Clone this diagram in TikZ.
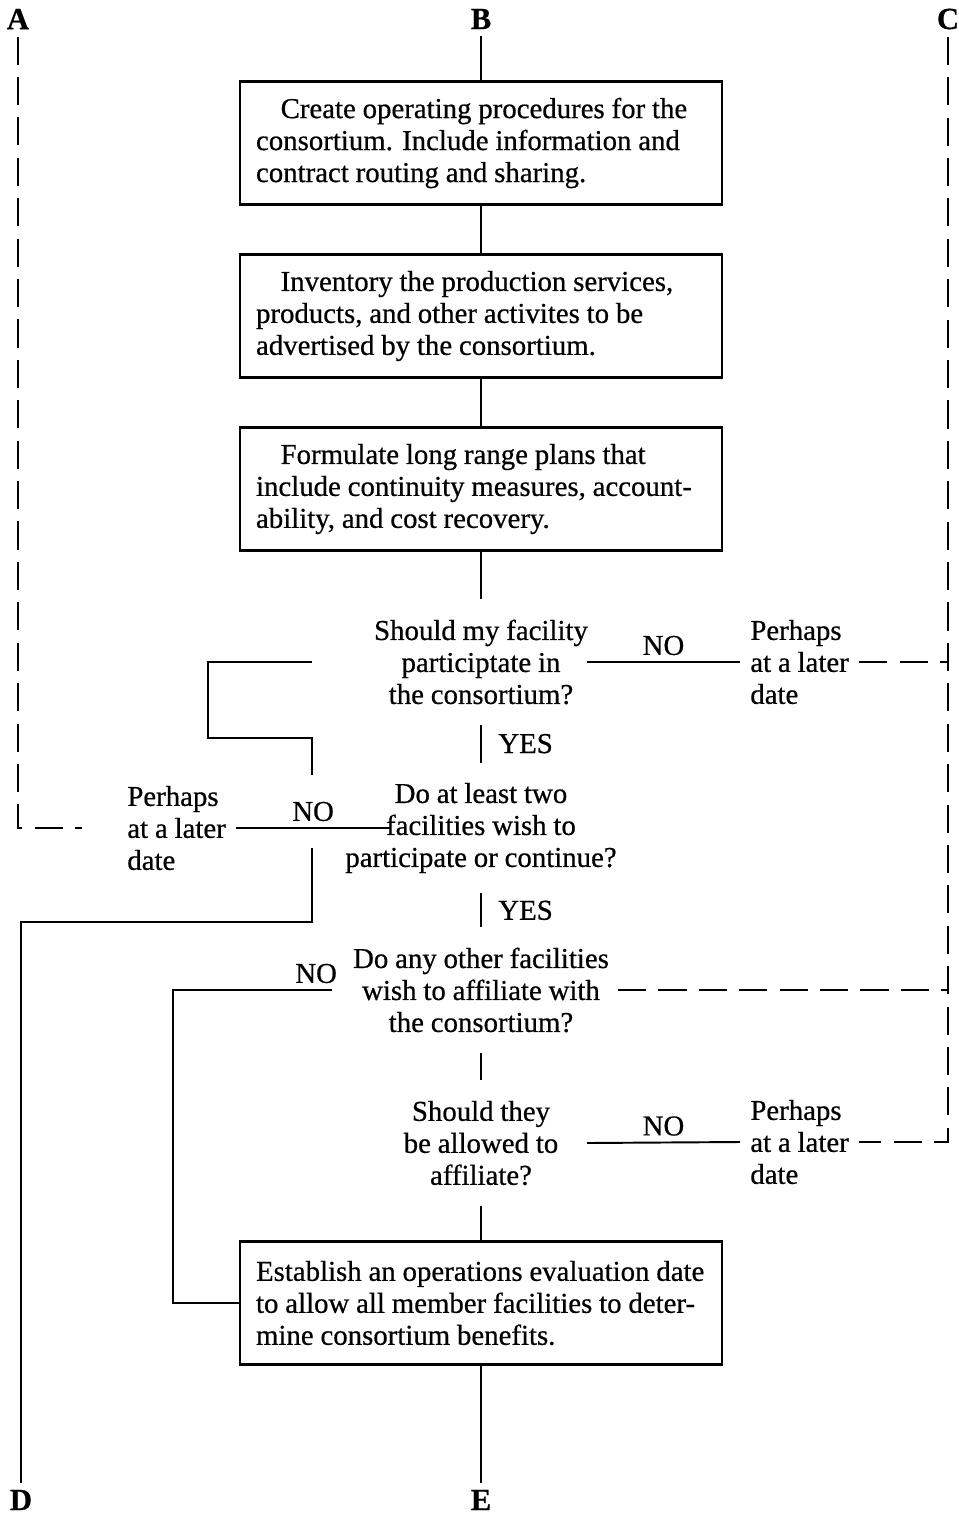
\documentclass[tikz,border=0pt]{standalone}
\usepackage{fontspec}
\setmainfont{Liberation Serif}[WordSpace=0.95, FakeBold=0.6]
\usetikzlibrary{positioning,calc}

\begin{document}
\begin{tikzpicture}[x=0.02cm, y=-0.02cm,
    every node/.style={font=\fontsize{16.4}{18.2}\selectfont},
    line/.style={line width=1.1pt},
    dashline/.style={line width=1.1pt, dash pattern=on 16pt off 7pt},
    procbox/.style={draw, line width=1.6pt, minimum height=2.46cm, text width=9cm, inner xsep=0.32cm, align=left,
        execute at begin node={\spaceskip=0pt\xspaceskip=0pt}},
    ask/.style={align=center, inner xsep=5pt, inner ysep=0.4cm},
    later/.style={align=left, inner xsep=0.2cm, execute at begin node={\spaceskip=0pt\xspaceskip=0pt}},
    tag/.style={font=\fontsize{17.5}{17.5}\selectfont\bfseries, inner sep=4pt}]
    \useasboundingbox (0,0) rectangle (958,1516);
    % off-page connectors
    \node[tag] (A) at (18,19) {A};
    \node[tag] (B) at (481,19) {B};
    \node[tag] (C) at (948,19) {C};
    \node[tag] (D) at (21,1500) {D};
    \node[tag] (E) at (481,1500) {E};
    % procedure boxes
    \node[procbox] (box1) at (481,143) {\hspace*{14pt}Create operating procedures for the\\consortium. Include information and\\contract routing and sharing.};
    \node[procbox] (box2) at (481,316) {\hspace*{14pt}Inventory the production services,\\products, and other activites to be\\advertised by the consortium.};
    \node[procbox] (box3) at (481,489) {\hspace*{14pt}Formulate long range plans that\\include continuity measures, account-\\ability, and cost recovery.};
    \node[procbox] (box4) at (481,1303) {Establish an operations evaluation date\\to allow all member facilities to deter-\\mine consortium benefits.};
    % questions
    \node[ask] (q1) at (481,662) {Should my facility\\participtate in\\the consortium?};
    \node[ask] (q2) at (481,828) {Do at least two\\facilities wish to\\participate or continue?};
    \node[ask] (q3) at (481,990) {Do any other facilities\\wish to affiliate with\\the consortium?};
    \node[ask] (q4) at (481,1143) {Should they\\be allowed to\\affiliate?};
    % deferred answers
    \node[later, anchor=west] (later1) at (740,662) {Perhaps\\at a later\\date};
    \node[later, anchor=west] (later2) at (117,828) {Perhaps\\at a later\\date};
    \node[later, anchor=west] (later4) at (740,1142) {Perhaps\\at a later\\date};
    % turning points
    \coordinate (ncol) at (587,0);
    \coordinate (lcol) at (312,0);
    \coordinate (loopL) at (208,738);
    \coordinate (jmp1) at (312,775);
    \coordinate (jmp2) at (312,848);
    \coordinate (dturn) at (21,922);
    \coordinate (q2in) at (390,828);
    \coordinate (q3no) at (332,990);
    \coordinate (backL) at (173,990);
    % main column
    \draw[line] (B.south) -- (box1.north);
    \draw[line] (box1.south) -- (box2.north);
    \draw[line] (box2.south) -- (box3.north);
    \draw[line] (box3.south) -- (q1.north);
    \draw[line] (q1.south) -- node[right=6pt] {YES} (q2.north);
    \draw[line] (q2.south) -- node[right=6pt] {YES} (q3.north);
    \draw[line] (q3.south) -- (q4.north);
    \draw[line] (q4.south) -- (box4.north);
    \draw[line] (box4.south) -- (E.north);
    % NO branches
    \draw[line] (q1.east -| ncol) -- node[above] {NO} (later1.west);
    \draw[line] (q4.east -| ncol) -- node[above] {NO} (later4.west);
    \draw[line] (later2.east) -- node[above] {NO} (q2in);
    \draw[line] (q1.west -| lcol) -| (loopL) -| (jmp1);
    \draw[line] (jmp2) |- (dturn) -- (D.north);
    \draw[line] (q3no) -- node[above, pos=0.1] {NO} (backL) |- (box4.west);
    % dashed returns
    \draw[dashline, shorten >=0.7cm] (A.south) |- (later2.west);
    \draw[dashline] (C.south) |- (later4.east);
    \draw[dashline] (later1.east) -- (later1.east -| C.south);
    \draw[dashline] (q3.east) -- (q3.east -| C.south);
\end{tikzpicture}
\end{document}
